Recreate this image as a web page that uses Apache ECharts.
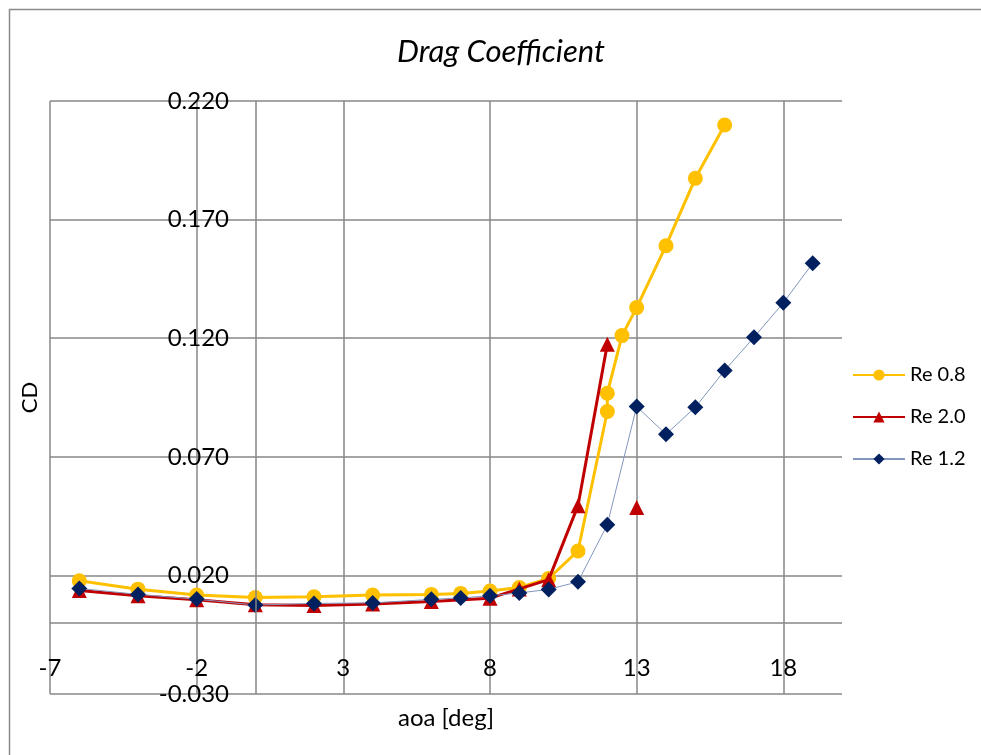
<!DOCTYPE html>
<html>
<head>
<meta charset="utf-8">
<title>Drag Coefficient</title>
<script src="https://cdn.jsdelivr.net/npm/echarts@6/dist/echarts.min.js"></script>
<style>
  html, body { margin: 0; padding: 0; background: #ffffff; }
  #chart { width: 981px; height: 755px; }
</style>
</head>
<body>
<div id="chart"></div>
<script>
// Angle of attack [deg] and drag coefficient per Reynolds number
const aoaRe08 = [-6, -4, -2, 0, 2, 4, 6, 7, 8, 9, 10, 11, 12, 12, 12.5, 13, 14, 15, 16];
const cdRe08  = [0.0177, 0.0142, 0.0117, 0.0107, 0.0110, 0.0117, 0.0120, 0.0124, 0.0134, 0.0149,
                 0.0187, 0.0303, 0.0891, 0.0968, 0.1211, 0.1329, 0.1590, 0.1874, 0.2099];

// Re 2.0: no reading at 12.5, so the last point stands apart
const aoaRe20 = [-6, -4, -2, 0, 2, 4, 6, 8, 9, 10, 11, 12, 12.5, 13];
const cdRe20  = [0.0136, 0.0114, 0.0097, 0.0076, 0.0073, 0.0079, 0.0090, 0.0104, 0.0143, 0.0182,
                 0.0494, 0.1175, null, 0.0486];

const aoaRe12 = [-6, -4, -2, 0, 2, 4, 6, 7, 8, 9, 10, 11, 12, 13, 14, 15, 16, 17, 18, 19];
const cdRe12  = [0.0145, 0.0120, 0.0100, 0.0075, 0.0082, 0.0084, 0.0099, 0.0105, 0.0114, 0.0126,
                 0.0141, 0.0173, 0.0414, 0.0912, 0.0795, 0.0909, 0.1064, 0.1204, 0.1349, 0.1516];

const seriesNames = ['Re 0.8', 'Re 2.0', 'Re 1.2'];

// Axis ranges and tick steps
const xMin = -7, xMax = 20, xStep = 5;
const yMin = -0.03, yMax = 0.22, yStep = 0.05;

const FONT = 'Lato, "Open Sans", sans-serif';
const GRID_COLOR = '#878787';

function pairs(xs, ys) {
  return xs.map((x, i) => [x, ys[i]]);
}

const chart = echarts.init(document.getElementById('chart'), null, { renderer: 'canvas' });

chart.setOption({
  backgroundColor: '#ffffff',
  animation: false,
  textStyle: { fontFamily: FONT, color: '#000' },
  title: {
    text: 'Drag Coefficient',
    left: 392,
    top: 31,
    textStyle: { fontFamily: FONT, fontSize: 31, fontStyle: 'italic', fontWeight: 'normal', color: '#000' }
  },
  graphic: [{
    type: 'rect',
    silent: true,
    shape: { x: 9.5, y: 9.5, width: 1200, height: 1000 },
    style: { fill: 'none', stroke: '#8a8a8a', lineWidth: 1.5 }
  }],
  legend: {
    orient: 'vertical',
    left: 847,
    top: 360,
    itemWidth: 52,
    itemHeight: 14,
    itemGap: 22,
    data: seriesNames,
    textStyle: { fontFamily: FONT, fontSize: 20, lineHeight: 20, color: '#000' }
  },
  grid: { left: 50, right: 139, top: 101, bottom: 61, containLabel: false, outerBoundsMode: 'none' },
  xAxis: {
    type: 'value',
    min: xMin, max: xMax, interval: xStep,
    name: 'aoa [deg]',
    nameLocation: 'middle',
    nameGap: 12,
    nameTextStyle: { fontFamily: FONT, fontSize: 24, color: '#000' },
    axisLine: { show: false, onZero: false },
    axisTick: { show: false },
    axisLabel: { margin: -38, fontFamily: FONT, fontSize: 24, color: '#000', showMaxLabel: false },
    splitLine: { show: true, showMaxLine: false, lineStyle: { color: GRID_COLOR, width: 1.5 } }
  },
  yAxis: {
    type: 'value',
    min: yMin, max: yMax, interval: yStep,
    name: 'CD',
    nameLocation: 'middle',
    nameRotate: 90,
    nameGap: 9,
    nameTextStyle: { fontFamily: FONT, fontSize: 22, color: '#000' },
    axisLine: { show: false, onZero: false },
    axisTick: { show: false },
    axisLabel: {
      margin: -179, fontFamily: FONT, fontSize: 24, color: '#000',
      formatter: v => v.toFixed(3)
    },
    splitLine: { show: true, lineStyle: { color: GRID_COLOR, width: 1.5 } }
  },
  series: [
    {
      // zero lines of both axes
      type: 'line',
      data: [],
      silent: true,
      z: 1,
      markLine: {
        silent: true,
        symbol: 'none',
        label: { show: false },
        lineStyle: { color: GRID_COLOR, width: 1.5, type: 'solid' },
        data: [{ xAxis: 0 }, { yAxis: 0 }]
      }
    },
    {
      name: seriesNames[0],
      type: 'line',
      data: pairs(aoaRe08, cdRe08),
      symbol: 'circle',
      symbolSize: 15,
      lineStyle: { color: '#FFC000', width: 3 },
      itemStyle: { color: '#FFC000' },
      z: 2
    },
    {
      name: seriesNames[1],
      type: 'line',
      data: pairs(aoaRe20, cdRe20),
      connectNulls: false,
      symbol: 'triangle',
      symbolSize: 15,
      lineStyle: { color: '#C00000', width: 3 },
      itemStyle: { color: '#C00000' },
      z: 3
    },
    {
      name: seriesNames[2],
      type: 'line',
      data: pairs(aoaRe12, cdRe12),
      symbol: 'diamond',
      symbolSize: 16,
      lineStyle: { color: '#8397BD', width: 1 },
      itemStyle: { color: '#002060' },
      z: 4
    }
  ]
});
</script>
</body>
</html>
